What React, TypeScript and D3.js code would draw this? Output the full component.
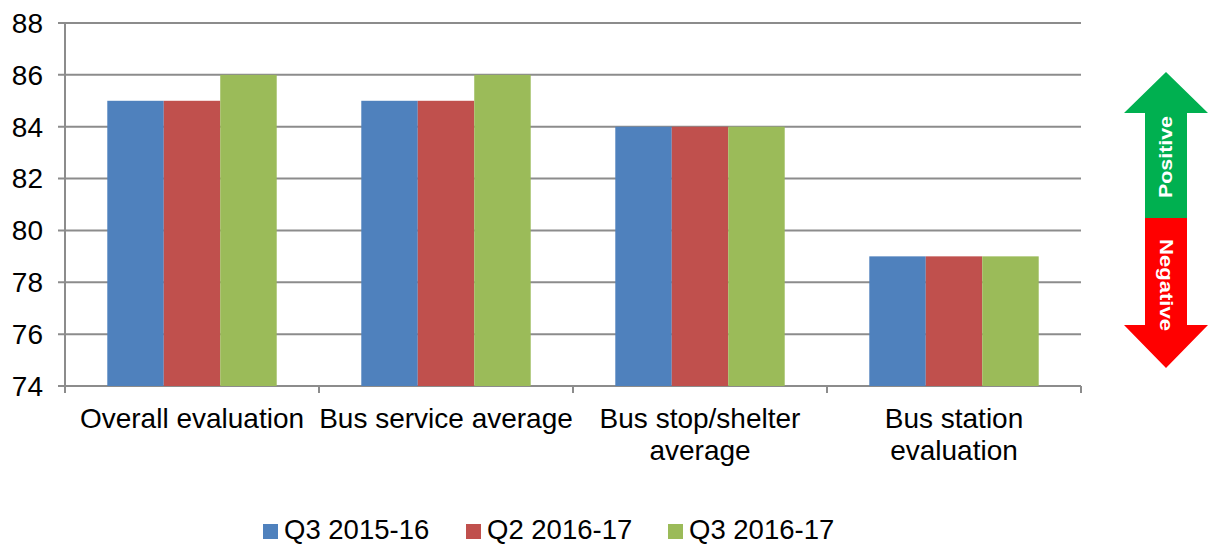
import React, { useEffect, useRef } from 'react';
import * as d3 from 'd3';

const categories = ['Overall evaluation', 'Bus service average', 'Bus stop/shelter average', 'Bus station evaluation'];
const categoryLines = [['Overall evaluation'], ['Bus service average'], ['Bus stop/shelter', 'average'], ['Bus station', 'evaluation']];
const seriesNames = ['Q3 2015-16', 'Q2 2016-17', 'Q3 2016-17'];
const seriesColors = ['#4F81BD', '#C0504D', '#9BBB59'];
const q3_2015 = [85, 85, 84, 79];
const q2_2016 = [85, 85, 84, 79];
const q3_2016 = [86, 86, 84, 79];
const yTicks = [74, 76, 78, 80, 82, 84, 86, 88];

const W = 1211;
const H = 545;

const App: React.FC = () => {
    const svgRef = useRef<SVGSVGElement>(null);

    useEffect(() => {
        if (!svgRef.current) return;
        const svg = d3.select(svgRef.current);
        svg.selectAll('*').remove();

        const left = 65, right = 1081, top = 23, bottom = 386;
        const font = 'Liberation Sans, Arial, sans-serif';
        const series = [q3_2015, q2_2016, q3_2016];

        const x = d3.scaleBand<string>().domain(categories).range([left, right]).paddingInner(0.333).paddingOuter(0.1665);
        const x1 = d3.scaleBand<number>().domain([0, 1, 2]).range([0, x.bandwidth()]);
        const y = d3.scaleLinear().domain([74, 88]).range([bottom, top]);

        // gridlines
        svg.append('g').selectAll('line').data(yTicks).enter().append('line')
            .attr('x1', left - 7).attr('x2', right)
            .attr('y1', d => y(d)).attr('y2', d => y(d))
            .attr('stroke', '#8c8c8c').attr('stroke-width', 2);

        svg.append('g').selectAll('text').data(yTicks).enter().append('text')
            .attr('x', 43).attr('y', d => y(d)).attr('dy', '0.35em')
            .attr('text-anchor', 'end').style('font-family', font).style('font-size', '28px')
            .attr('fill', '#000').text(d => d);

        // bars
        const groups = svg.append('g').selectAll('g').data(categories).enter().append('g')
            .attr('transform', c => `translate(${x(c)},0)`);
        groups.selectAll('rect').data((_, i) => series.map((s, k) => ({ k, v: s[i] }))).enter().append('rect')
            .attr('x', d => x1(d.k)!).attr('width', x1.bandwidth())
            .attr('y', d => y(d.v)).attr('height', d => bottom - y(d.v))
            .attr('fill', d => seriesColors[d.k]);

        // axes
        svg.append('line').attr('x1', left).attr('x2', left).attr('y1', top).attr('y2', bottom + 7)
            .attr('stroke', '#8c8c8c').attr('stroke-width', 2);
        const step = (right - left) / categories.length;
        svg.append('g').selectAll('line').data(d3.range(categories.length + 1)).enter().append('line')
            .attr('x1', i => left + i * step).attr('x2', i => left + i * step)
            .attr('y1', bottom).attr('y2', bottom + 7)
            .attr('stroke', '#8c8c8c').attr('stroke-width', 2);

        // category labels
        const lab = svg.append('g').selectAll('text').data(categories).enter().append('text')
            .attr('text-anchor', 'middle').style('font-family', font).style('font-size', '28px').attr('fill', '#000');
        lab.each(function (c, i) {
            const t = d3.select(this);
            categoryLines[i].forEach((ln, j) => {
                t.append('tspan').attr('x', x(c)! + x.bandwidth() / 2).attr('y', 428 + j * 32).text(ln);
            });
        });

        // legend
        const legendX = [263, 466, 668];
        const lg = svg.append('g').selectAll('g').data(seriesNames).enter().append('g')
            .attr('transform', (_, i) => `translate(${legendX[i]},524)`);
        lg.append('rect').attr('width', 15).attr('height', 15).attr('fill', (_, i) => seriesColors[i]);
        lg.append('text').attr('x', 21).attr('y', 15)
            .style('font-family', font).style('font-size', '27.5px').attr('fill', '#000').text(d => d);

        // arrow
        const cx = 1166, hw = 42, sw = 21, tipT = 72, headT = 113, mid = 218, headB = 325, tipB = 368;
        svg.append('path')
            .attr('d', `M${cx},${tipT} L${cx + hw},${headT} L${cx + sw},${headT} L${cx + sw},${mid} L${cx - sw},${mid} L${cx - sw},${headT} L${cx - hw},${headT} Z`)
            .attr('fill', '#00B050');
        svg.append('path')
            .attr('d', `M${cx},${tipB} L${cx + hw},${headB} L${cx + sw},${headB} L${cx + sw},${mid} L${cx - sw},${mid} L${cx - sw},${headB} L${cx - hw},${headB} Z`)
            .attr('fill', '#FF0000');
        svg.append('text').attr('transform', `translate(${cx},157) rotate(-90)`).attr('dy', '0.35em')
            .attr('text-anchor', 'middle').style('font-family', font).style('font-size', '18px').style('font-weight', 'bold')
            .attr('textLength', 82).attr('lengthAdjust', 'spacingAndGlyphs')
            .attr('fill', '#fff').text('Positive');
        svg.append('text').attr('transform', `translate(${cx},285) rotate(90)`).attr('dy', '0.35em')
            .attr('text-anchor', 'middle').style('font-family', font).style('font-size', '18px').style('font-weight', 'bold')
            .attr('textLength', 92).attr('lengthAdjust', 'spacingAndGlyphs')
            .attr('fill', '#fff').text('Negative');
    }, []);

    return (
        <svg ref={svgRef} width={W} height={H} style={{ position: 'absolute', left: 0, top: 0, background: '#fff' }}></svg>
    );
};

export default App;
